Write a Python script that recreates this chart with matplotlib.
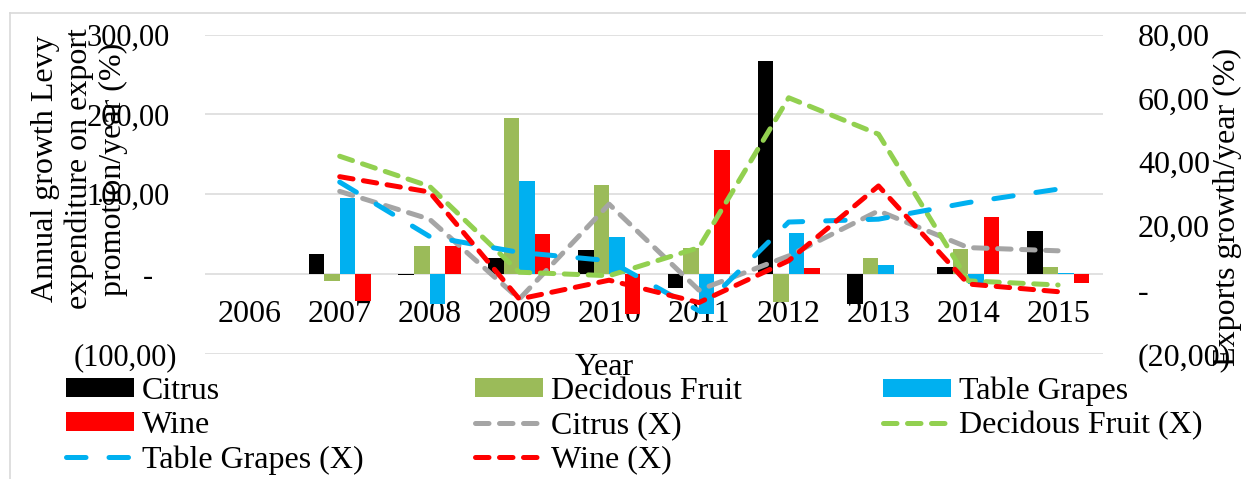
import numpy as np
import matplotlib
matplotlib.use('Agg')
import matplotlib.pyplot as plt
from matplotlib.lines import Line2D

# ---------------- data ----------------
years = ['2006', '2007', '2008', '2009', '2010', '2011', '2012', '2013', '2014', '2015']

# Annual growth of levy expenditure on export promotion (%/year) - left axis, bars
citrus = [np.nan, 25, -1, 20, 30, -17, 267, -38, 9, 54]
decidous = [np.nan, -9, 35, 195, 111, 33, -35, 20, 32, 9]
table_grapes = [np.nan, 95, -37, 116, 46, -50, 52, 11, -12, 2]
wine = [np.nan, -34, 35, 50, -50, 156, 8, 0, 71, -11]

# Exports growth (%/year) - right axis, lines
citrus_x = [np.nan, 30.9, 22.2, -2.8, 26.9, 0.0, 10.7, 24.8, 13.3, 12.3]
decidous_x = [np.nan, 41.9, 32.5, 5.6, 4.5, 13.3, 60.2, 48.8, 2.9, 1.6]
table_grapes_x = [np.nan, 33.8, 16.8, 11.8, 9.2, -6.5, 21.3, 22.2, 27.4, 31.6]
wine_x = [np.nan, 35.5, 30.7, -2.8, 3.1, -3.9, 9.2, 32.6, 1.9, -0.5]

left_ticks = [-100, 0, 100, 200, 300]
left_ticklabels = ['(100,00)', '-', '100,00', '200,00', '300,00']
right_ticks = [-20, 0, 20, 40, 60, 80]
right_ticklabels = ['(20,00)', '-', '20,00', '40,00', '60,00', '80,00']

# ---------------- style ----------------
plt.rcParams['font.family'] = ['Liberation Serif', 'DejaVu Serif']
FS = 23
GRID = '#D9D9D9'

fig = plt.figure(figsize=(12.46, 4.79), dpi=100)
ax = fig.add_axes([0.16453, 0.26096, 0.72070, 0.66701])

x = np.arange(len(years))
w = 0.173
b_citrus = ax.bar(x - 1.5 * w, citrus, w, color='#000000', label='Citrus')
b_dec = ax.bar(x - 0.5 * w, decidous, w, color='#9BBB59', label='Decidous Fruit')
b_tg = ax.bar(x + 0.5 * w, table_grapes, w, color='#00B0F0', label='Table Grapes')
b_wine = ax.bar(x + 1.5 * w, wine, w, color='#FF0000', label='Wine')

ax.set_xlim(-0.5, len(years) - 0.5)
ax.set_ylim(-100, 300)
ax.set_yticks(left_ticks)
ax.set_yticklabels(left_ticklabels)
ax.set_xticks(x)
ax.set_xticklabels(years)
ax.yaxis.grid(True, color=GRID, lw=1.1)
ax.set_axisbelow(True)
for s in ax.spines.values():
    s.set_visible(False)
ax.spines['bottom'].set_position(('data', 0))
ax.tick_params(axis='x', length=0, pad=18.5, labelsize=FS)
ax.tick_params(axis='y', length=0, labelsize=22)
pads = [20.2, 37.4, 25.2, 25.2, 25.2]
for t, p in zip(ax.yaxis.get_major_ticks(), pads):
    t.set_pad(p)

ax2 = ax.twinx()
ax2.set_ylim(-20, 80)
ax2.set_yticks(right_ticks)
ax2.set_yticklabels(right_ticklabels)
for s in ax2.spines.values():
    s.set_visible(False)
ax2.tick_params(axis='y', length=0, pad=25.2, labelsize=FS)

LW = 3.6
short = (2.7, 2.1)
long_ = (3.9, 4.6)
l_citrus, = ax2.plot(x, citrus_x, color='#A5A5A5', lw=LW, dashes=short,
                     dash_capstyle='round', label='Citrus (X)')
l_dec, = ax2.plot(x, decidous_x, color='#92D050', lw=LW, dashes=short,
                  dash_capstyle='round', label='Decidous Fruit (X)')
l_tg, = ax2.plot(x, table_grapes_x, color='#00B0F0', lw=LW, dashes=long_,
                 dash_capstyle='round', label='Table Grapes (X)')
l_wine, = ax2.plot(x, wine_x, color='#FF0000', lw=LW, dashes=short,
                   dash_capstyle='round', label='Wine (X)')

# axis titles
ax.set_ylabel('Annual growth Levy\nexpenditure on export\npromotion/year (%)',
              fontsize=FS, ha='center', va='center', linespacing=1.2)
ax.yaxis.set_label_coords(-0.1398, 0.579)
ax2.set_ylabel('Exports growth/year (%)', fontsize=FS, ha='center', va='center',
               rotation=90)
ax2.yaxis.set_label_coords(1.139, 0.46)
ax.set_xlabel('Year', fontsize=FS, va='baseline')
ax.xaxis.set_label_coords(0.445, -0.0657)

# legend: three columns, row-major order like the original
leg_kw = dict(loc='upper left', frameon=False, borderpad=0, borderaxespad=0,
              handlelength=2.13, handleheight=0.53, handletextpad=0.25,
              labelspacing=0.16, fontsize=FS)
ytop = 0.2134
cols = [([b_citrus, b_wine, l_tg], 66 / 1246),
        ([b_dec, l_citrus, l_wine], 475 / 1246),
        ([b_tg, l_dec], 883 / 1246)]
for handles, xpos in cols:
    lg = fig.legend(handles=handles, labels=[h.get_label() for h in handles],
                    bbox_to_anchor=(xpos, ytop), **leg_kw)

# chart border (light grey)
ytb = 1 - 12.5 / 479
xlb = 10 / 1246
fig.add_artist(Line2D([xlb, 1.0], [ytb, ytb], transform=fig.transFigure,
                      color=GRID, lw=1.2))
fig.add_artist(Line2D([xlb, xlb], [0.0, ytb], transform=fig.transFigure,
                      color=GRID, lw=1.2))

fig.savefig('out.png', dpi=100)
